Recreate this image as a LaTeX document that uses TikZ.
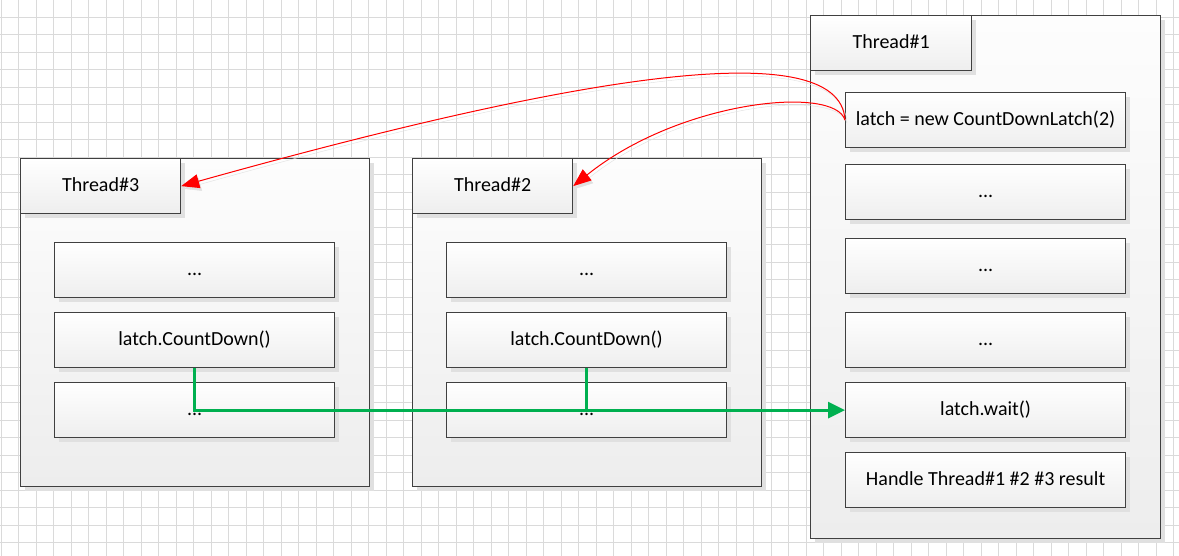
\documentclass[tikz,border=0pt]{standalone}
\usepackage{fontspec}
\setmainfont{Carlito}
\usetikzlibrary{arrows.meta,shadows}

\definecolor{gridline}{HTML}{DADADA}
\definecolor{boxline}{HTML}{404040}
\definecolor{boxtop}{HTML}{FFFFFF}
\definecolor{boxbottom}{HTML}{EEEEEE}
\definecolor{paneltop}{HTML}{FDFDFD}
\definecolor{panelbottom}{HTML}{EDEDED}
\definecolor{shadowgray}{HTML}{E0E0E0}
\definecolor{flowgreen}{HTML}{00B050}
\definecolor{signalred}{HTML}{FF0000}

\tikzset{
  boxshadow/.style={drop shadow={shadow xshift=4pt, shadow yshift=-4pt, fill=shadowgray, opacity=1}},
  labeltext/.style={font=\fontsize{20}{22}\selectfont, text height=14pt, text depth=4pt},
  panel/.style={draw=boxline, line width=1.2pt, top color=paneltop, bottom color=panelbottom,
    boxshadow, anchor=north west, inner sep=0pt, minimum width=349pt, minimum height=328pt},
  header/.style={draw=boxline, line width=1.2pt, top color=boxtop, bottom color=boxbottom,
    boxshadow, anchor=north west, inner sep=0pt, minimum width=160pt, minimum height=55pt,
    labeltext},
  stepbox/.style={draw=boxline, line width=1.2pt, top color=boxtop, bottom color=boxbottom,
    boxshadow, anchor=north west, inner sep=0pt, minimum width=280pt, minimum height=55pt,
    labeltext},
  signal/.style={draw=signalred, line width=1pt,
    -{Triangle[length=18pt,width=14pt]},
    preaction={draw=shadowgray, transform canvas={xshift=2pt,yshift=-3pt}}},
  flow/.style={draw=flowgreen, line width=3pt, line join=miter},
}

\begin{document}
\begin{tikzpicture}[x=1pt,y=-1pt]
\useasboundingbox (0,0) rectangle (1179,556);
\fill[white] (0,0) rectangle (1179,556);

% background grid
\foreach \i in {0,...,67} \draw[gridline, line width=1pt] (1+17.5*\i,0) -- (1+17.5*\i,556);
\foreach \j in {0,...,31} \draw[gridline, line width=1pt] (0,17.5*\j) -- (1179,17.5*\j);

% Thread#3
\node[panel] (t3) at (20,158) {};
\node[header] (t3h) at (20,158) {Thread\#3};
\node[stepbox] (t3a) at (54,242) {...};
\node[stepbox] (t3b) at (54,312) {latch.CountDown()};
\node[stepbox] (t3c) at (54,382) {...};

% Thread#2
\node[panel] (t2) at (412,158) {};
\node[header] (t2h) at (412,158) {Thread\#2};
\node[stepbox] (t2a) at (446,242) {...};
\node[stepbox] (t2b) at (446,312) {latch.CountDown()};
\node[stepbox] (t2c) at (446,382) {...};

% Thread#1
\node[panel, minimum width=350pt, minimum height=523pt] (t1) at (810,15) {};
\node[header, minimum width=161pt] (t1h) at (810,15) {Thread\#1};
\node[stepbox] (latch) at (845,92) {latch = new CountDownLatch(2)};
\node[stepbox] (t1a) at (845,164) {...};
\node[stepbox] (t1b) at (845,238) {...};
\node[stepbox] (t1c) at (845,312) {...};
\node[stepbox] (wait) at (845,382) {latch.wait()};
\node[stepbox] (result) at (845,452) {Handle Thread\#1 \#2 \#3 result};

% latch handed to the worker threads
\draw[signal] (latch.west) .. controls (840,30) and (560,80) .. (t3h.east);
\draw[signal] (latch.west) .. controls (835,85) and (680,100) .. (t2h.east);

% count-down signals reaching latch.wait()
\draw[flow] (t2b.south) -- (t2b.south |- wait.west);
\draw[flow, -{Triangle[length=17pt,width=16pt]}] (t3b.south) |- (wait.west);
\end{tikzpicture}
\end{document}
